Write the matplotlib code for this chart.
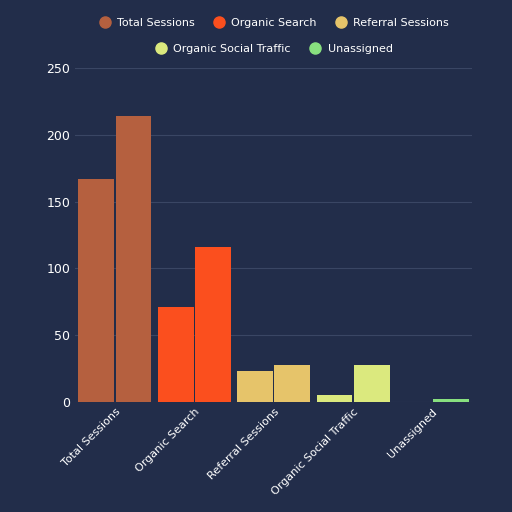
import matplotlib.pyplot as plt
import numpy as np

categories = ['Total Sessions', 'Organic Search', 'Referral Sessions',
              'Organic Social Traffic', 'Unassigned']
period_a = [167, 71, 23, 5, 0]
period_b = [214, 116, 28, 28, 2]
colors = ['#b5603f', '#fb4f1e', '#e6c46a', '#dbe97e', '#88e07f']

bg = '#222d4a'
fig = plt.figure(figsize=(5.12, 5.12), dpi=100, facecolor=bg)
ax = fig.add_axes([0.147, 0.215, 0.775, 0.652], facecolor=bg)

x = np.arange(len(categories))
w = 0.45
ax.bar(x - w / 2 - 0.01, period_a, width=w, color=colors)
ax.bar(x + w / 2 + 0.01, period_b, width=w, color=colors)

ax.set_xlim(-0.5, len(categories) - 0.5)
ax.set_ylim(0, 250)
ax.set_yticks(range(0, 251, 50))
ax.grid(axis='y', color='#3a4664', linewidth=0.8)
ax.set_axisbelow(True)
for s in ax.spines.values():
    s.set_visible(False)
ax.tick_params(colors='white', length=0, labelsize=9)
ax.set_xticks(x)
ax.set_xticklabels(categories, rotation=45, ha='right', rotation_mode='anchor',
                   fontsize=8, color='white')

handles = [plt.Line2D([], [], marker='o', linestyle='', markersize=8,
                      color=c, label=l) for c, l in zip(colors, categories)]
fig.legend(handles=handles[:3], loc='upper center', ncol=3, frameon=False,
           bbox_to_anchor=(0.53, 0.985), labelcolor='white', fontsize=8,
           handletextpad=0.1, columnspacing=1.2)
fig.legend(handles=handles[3:], loc='upper center', ncol=2, frameon=False,
           bbox_to_anchor=(0.53, 0.933), labelcolor='white', fontsize=8,
           handletextpad=0.1, columnspacing=1.2)

fig.savefig('out.png', dpi=100, facecolor=bg)
